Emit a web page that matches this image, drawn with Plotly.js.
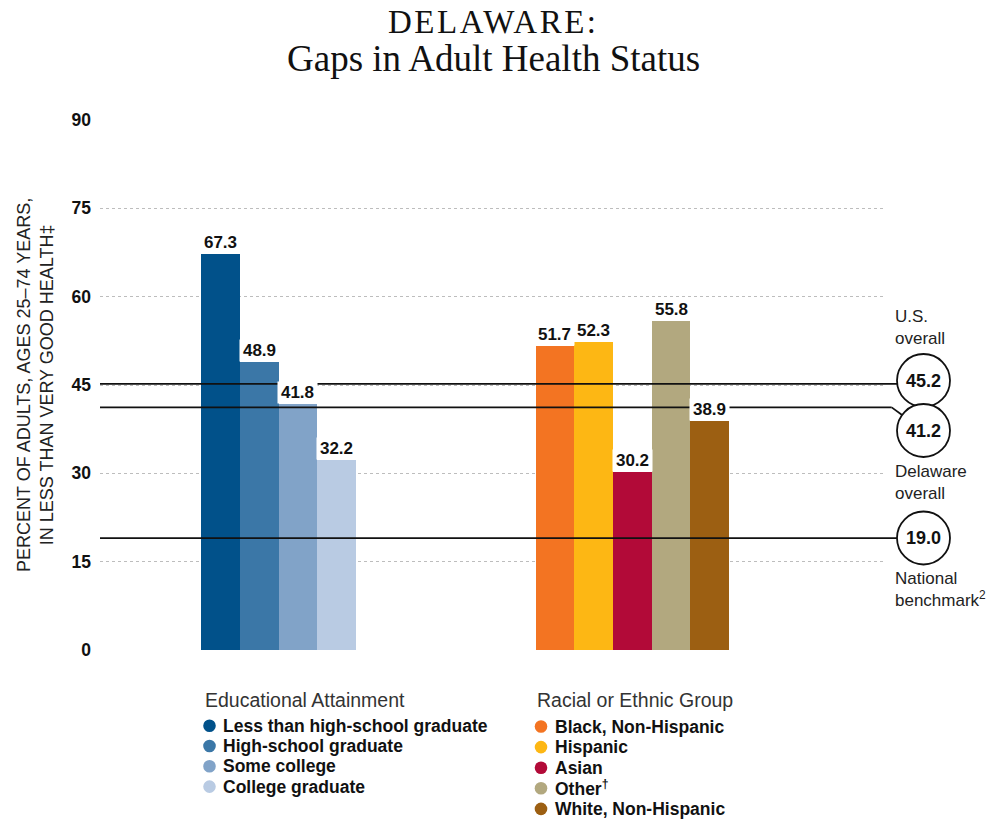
<!DOCTYPE html>
<html>
<head>
<meta charset="utf-8">
<script src="https://cdn.plot.ly/plotly-3.0.1.min.js"></script>
<style>
  html, body { margin: 0; padding: 0; background: #ffffff; }
  #chart { width: 995px; height: 820px; }
</style>
</head>
<body>
<div id="chart"></div>
<script>
// ---------------- DATA ----------------
const EDU_LABELS = ['Less than high-school graduate', 'High-school graduate', 'Some college', 'College graduate'];
const EDU_VALUES = [67.3, 48.9, 41.8, 32.2];

const RACE_LABELS = ['Black, Non-Hispanic', 'Hispanic', 'Asian', 'Other<sup>†</sup>', 'White, Non-Hispanic'];
const RACE_VALUES = [51.7, 52.3, 30.2, 55.8, 38.9];

const REF_LABELS = ['U.S.<br>overall', 'Delaware<br>overall', 'National<br>benchmark<sup>2</sup>'];
const REF_VALUES = [45.2, 41.2, 19.0];

const Y_TICKS = [0, 15, 30, 45, 60, 75, 90];

const TITLE_LINE1 = 'DELAWARE:';
const TITLE_LINE2 = 'Gaps in Adult Health Status';
const Y_TITLE = 'PERCENT OF ADULTS, AGES 25–74 YEARS,<br>IN LESS THAN VERY GOOD HEALTH‡';
const EDU_GROUP_TITLE = 'Educational Attainment';
const RACE_GROUP_TITLE = 'Racial or Ethnic Group';

// ---------------- STYLE ----------------
const EDU_COLORS = ['#01518A', '#3B77A7', '#81A3C8', '#B9CBE3'];
const RACE_COLORS = ['#F37422', '#FDB714', '#B20A38', '#B2A87F', '#9C5F12'];

const SANS = 'Liberation Sans, Arial, Helvetica, sans-serif';
const SERIF = 'Liberation Serif, Times New Roman, serif';

const W = 995, H = 820;
const M = { l: 100, r: 110, t: 120, b: 170 };
const PW = W - M.l - M.r;       // plot width px
const PH = H - M.t - M.b;       // plot height px
const Y_MAX = 90;
const BAR_PX = 38.72;           // one x unit in px
const X_MAX = PW / BAR_PX;
const EDU_START = 3.11;
const RACE_START = 11.75;

// pixel helpers (layout only)
const pxX = px => (px - M.l) / PW;                 // page px -> paper x
const pxYp = py => (M.t + PH - py) / PH;           // page px -> paper y
const pxYd = py => (M.t + PH - py) / PH * Y_MAX;   // page px -> data y
const yPx = v => M.t + PH - v / Y_MAX * PH;        // data y -> page px

const eduX = EDU_VALUES.map((_, i) => EDU_START + i);
const raceX = RACE_VALUES.map((_, i) => RACE_START + i);

const traces = [
  {
    type: 'bar', x: eduX, y: EDU_VALUES, width: 1,
    marker: { color: EDU_COLORS, line: { width: 0 } },
    hovertext: EDU_LABELS, hoverinfo: 'text+y', textposition: 'none', showlegend: false
  },
  {
    type: 'bar', x: raceX, y: RACE_VALUES, width: 1,
    marker: { color: RACE_COLORS, line: { width: 0 } },
    hovertext: RACE_LABELS, hoverinfo: 'text+y', textposition: 'none', showlegend: false
  }
];

const annotations = [];
const shapes = [];

// Title lines
annotations.push({
  xref: 'paper', yref: 'paper', x: pxX(493), y: pxYp(22), xanchor: 'center', yanchor: 'middle',
  text: '<span style="letter-spacing:2.5px">' + TITLE_LINE1 + '</span>', showarrow: false,
  font: { family: SERIF, size: 33, color: '#111' }
});
annotations.push({
  xref: 'paper', yref: 'paper', x: pxX(493), y: pxYp(59), xanchor: 'center', yanchor: 'middle',
  text: TITLE_LINE2, showarrow: false,
  font: { family: SERIF, size: 37, color: '#111' }
});

// Y title
annotations.push({
  xref: 'paper', yref: 'paper', x: pxX(35), y: 0.5, xanchor: 'center', yanchor: 'middle',
  text: Y_TITLE, textangle: -90, showarrow: false,
  font: { family: SANS, size: 18, color: '#222' }
});

// Bar value labels (white box knocks out reference lines, as in the original)
function addBarLabels(xs, vals) {
  vals.forEach((v, i) => {
    annotations.push({
      xref: 'x', yref: 'y', x: xs[i], y: v, xanchor: 'center', yanchor: 'bottom',
      text: v.toFixed(1), showarrow: false, bgcolor: '#ffffff', borderpad: 1, width: 37,
      font: { family: SANS, size: 17, color: '#111', weight: 'bold' }
    });
  });
}
addBarLabels(eduX, EDU_VALUES);
addBarLabels(raceX, RACE_VALUES);

// Reference lines + circles
const CIRC_CX = 923.5, CIRC_R = 26.5;
const CIRC_CY = [380.5, 430.5, 538];         // page px centres
const LABEL_TOP = [305, 460, 567];           // page px of label block
const rx = CIRC_R / PW, ry = CIRC_R / PH * Y_MAX;

REF_VALUES.forEach((v, i) => {
  const cyD = pxYd(CIRC_CY[i]);
  if (i === 1) {
    const bendPx = 891.7;
    const ly = yPx(v);
    const dx = bendPx - CIRC_CX, dy = ly - CIRC_CY[i];
    const len = Math.hypot(dx, dy);
    const ex = CIRC_CX + CIRC_R * dx / len, ey = CIRC_CY[i] + CIRC_R * dy / len;
    shapes.push({
      type: 'line', xref: 'paper', yref: 'y', x0: 0, x1: pxX(bendPx), y0: v, y1: v,
      line: { color: '#111', width: 1.8 }, layer: 'above'
    });
    shapes.push({
      type: 'line', xref: 'paper', yref: 'y', x0: pxX(bendPx), x1: pxX(ex), y0: v, y1: pxYd(ey),
      line: { color: '#111', width: 1.8 }, layer: 'above'
    });
  } else {
    shapes.push({
      type: 'line', xref: 'paper', yref: 'y', x0: 0, x1: pxX(CIRC_CX - CIRC_R), y0: v, y1: v,
      line: { color: '#111', width: 1.8 }, layer: 'above'
    });
  }
  shapes.push({
    type: 'circle', xref: 'paper', yref: 'y',
    x0: pxX(CIRC_CX) - rx, x1: pxX(CIRC_CX) + rx, y0: cyD - ry, y1: cyD + ry,
    line: { color: '#111', width: 1.8 }, fillcolor: '#ffffff', layer: 'above'
  });
  annotations.push({
    xref: 'paper', yref: 'y', x: pxX(CIRC_CX), y: cyD, xanchor: 'center', yanchor: 'middle',
    text: v.toFixed(1), showarrow: false,
    font: { family: SANS, size: 18, color: '#111', weight: 'bold' }
  });
  annotations.push({
    xref: 'paper', yref: 'paper', x: pxX(893), y: pxYp(LABEL_TOP[i]), xanchor: 'left', yanchor: 'top',
    text: REF_LABELS[i], showarrow: false, align: 'left',
    font: { family: SANS, size: 17, color: '#222' }
  });
});

// Manual legends
function addLegend(title, labels, colors, leftPx, dotCx, textLeft, titleCy, firstCy, step) {
  annotations.push({
    xref: 'paper', yref: 'paper', x: pxX(leftPx), y: pxYp(titleCy), xanchor: 'left', yanchor: 'middle',
    text: title, showarrow: false, font: { family: SANS, size: 19.5, color: '#333' }
  });
  const r = 6.3;
  labels.forEach((lab, i) => {
    const cy = firstCy + i * step;
    shapes.push({
      type: 'circle', xref: 'paper', yref: 'paper',
      x0: pxX(dotCx - r), x1: pxX(dotCx + r), y0: pxYp(cy + r), y1: pxYp(cy - r),
      fillcolor: colors[i], line: { width: 0 }
    });
    annotations.push({
      xref: 'paper', yref: 'paper', x: pxX(textLeft), y: pxYp(cy), xanchor: 'left', yanchor: 'middle',
      text: lab, showarrow: false,
      font: { family: SANS, size: 17.5, color: '#111', weight: 'bold' }
    });
  });
}
addLegend(EDU_GROUP_TITLE, EDU_LABELS, EDU_COLORS, 203, 209.5, 221, 700, 725.7, 20.3);
addLegend(RACE_GROUP_TITLE, RACE_LABELS, RACE_COLORS, 535, 541, 553, 700, 726.5, 20.6);

const layout = {
  width: W, height: H,
  margin: M,
  paper_bgcolor: '#ffffff', plot_bgcolor: '#ffffff',
  showlegend: false,
  bargap: 0,
  xaxis: {
    range: [0, X_MAX], showgrid: false, zeroline: false, showticklabels: false,
    showline: false, ticks: '', fixedrange: true
  },
  yaxis: {
    range: [0, Y_MAX], tickvals: Y_TICKS, ticktext: Y_TICKS.map(String),
    showgrid: true, gridcolor: '#bdbdbd', griddash: 'dot', gridwidth: 1,
    zeroline: false, showline: false, ticks: '', ticklabelstandoff: 8,
    tickfont: { family: SANS, size: 17.5, color: '#111', weight: 'bold' },
    fixedrange: true
  },
  shapes: shapes,
  annotations: annotations,
  font: { family: SANS }
};

Plotly.newPlot('chart', traces, layout, { displayModeBar: false, staticPlot: true });
</script>
</body>
</html>
